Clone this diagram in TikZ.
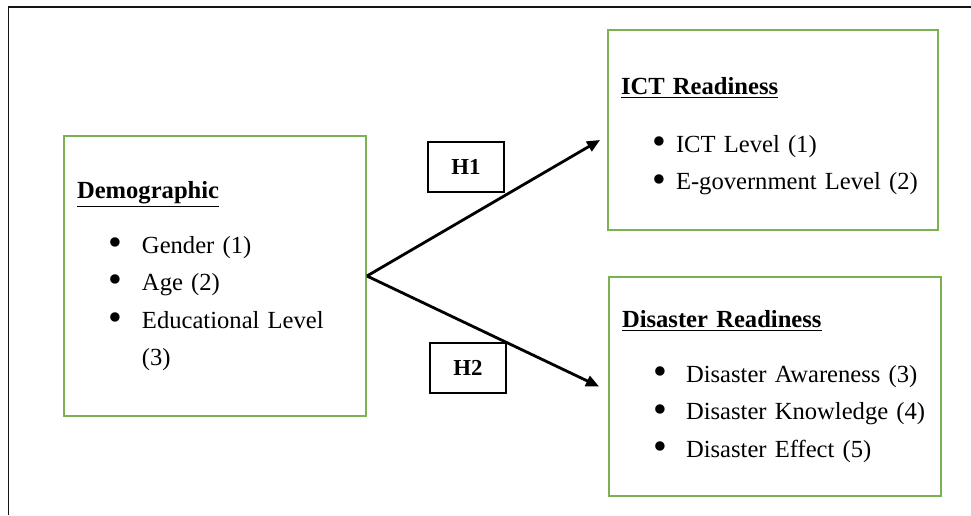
\documentclass[tikz,border=0pt]{standalone}
\usepackage{fontspec}
\setmainfont{Liberation Serif}
\usepackage{tikz}
\usetikzlibrary{arrows.meta, positioning}
\usepackage{xcolor}
\definecolor{boxgreen}{RGB}{122, 178, 82}
\definecolor{framegray}{RGB}{20, 20, 20}

% bullet line: optional argument is the text indent
\newcommand{\bitem}[2][1.2cm]{\hspace*{0.62cm}\makebox[\dimexpr#1-0.62cm\relax][l]{\raisebox{-0.2ex}{\scalebox{1.6}{\textbullet}}}#2}

\tikzset{
    greenbox/.style={draw=boxgreen, line width=1.1pt, align=left, inner xsep=0.26cm,
        font=\fontsize{14}{21.3}\selectfont},
    hbox/.style={draw, line width=0.6pt, minimum width=1.52cm, minimum height=1.0cm,
        font=\fontsize{13}{15}\selectfont},
    conn/.style={line width=1.6pt, -{Triangle[length=0.26cm, width=0.22cm]}}
}

\begin{document}
\begin{tikzpicture}
    \useasboundingbox (0,0) rectangle (19.42,10.30);
    \draw[framegray, line width=1.1pt] (0.17,0) -- (0.17,10.16) -- (19.42,10.16);

    % Variable boxes
    \node[greenbox, text width=5.52cm, minimum height=5.6cm] (demo) at (4.30,4.78) {%
        \underline{\textbf{Demographic}}\\[0.35cm]
        \bitem[1.3cm]{Gender (1)}\\
        \bitem[1.3cm]{Age (2)}\\
        \bitem[1.3cm]{Educational Level}\\
        \hspace*{1.3cm}(3)};
    \node[greenbox, text width=6.08cm, minimum height=4.0cm] (ict) at (15.46,7.70) {%
        \rule{0pt}{0.6cm}\underline{\textbf{ICT Readiness}}\\[0.4cm]
        \bitem[1.1cm]{ICT Level (1)}\\
        \bitem[1.1cm]{E-government Level (2)}};
    \node[greenbox, text width=6.12cm, minimum height=4.38cm] (dis) at (15.50,2.57) {%
        \underline{\textbf{Disaster Readiness}}\\[0.35cm]
        \bitem[1.28cm]{Disaster Awareness (3)}\\
        \bitem[1.28cm]{Disaster Knowledge (4)}\\
        \bitem[1.28cm]{Disaster Effect (5)}};

    % Hypotheses
    \node[hbox] (h1) at (9.32,6.96) {\textbf{H1}};
    \node[hbox] (h2) at (9.36,2.94) {\textbf{H2}};

    \draw[conn] (demo.east) -- ([xshift=-0.14cm, yshift=-0.2cm]ict.west);
    \draw[conn] (demo.east) -- ([xshift=-0.18cm]dis.west);
\end{tikzpicture}
\end{document}
